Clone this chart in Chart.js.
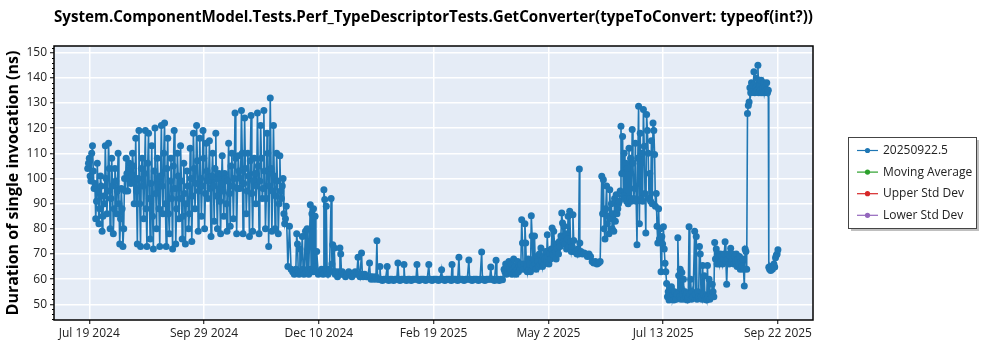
<!DOCTYPE html>
<html>
<head>
<meta charset="utf-8">
<script src="https://cdn.jsdelivr.net/npm/chart.js@4.4.1/dist/chart.umd.min.js"></script>
<style>
html,body{margin:0;padding:0;background:#fff;}
#wrap{position:relative;width:1000px;height:350px;}
</style>
</head>
<body>
<div id="wrap"><canvas id="c" width="1000" height="350"></canvas></div>
<script>
// ---- data ----
const chartTitle = 'System.ComponentModel.Tests.Perf_TypeDescriptorTests.GetConverter(typeToConvert: typeof(int?))';
const yAxisTitle = 'Duration of single invocation (ns)';
const seriesNames = ['20250922.5', 'Moving Average', 'Upper Std Dev', 'Lower Std Dev'];
const tickLabels = ['Jul 19 2024', 'Sep 29 2024', 'Dec 10 2024', 'Feb 19 2025', 'May 2 2025', 'Jul 13 2025', 'Sep 22 2025'];
const tickDays = [0, 71.67, 143.33, 215, 286.67, 358.33, 430];
const yTicks = [50, 60, 70, 80, 90, 100, 110, 120, 130, 140, 150];

// day offsets from Jul 19 2024
const dayOffsets = [
 -1,0,1,2,3,4,5,6,7,8,9,10,11,12,13,14,15,16,17,18,19,20,21,22,23,24,25,26,27,28,29,
 30,31,32,33,34,35,36,37,38,39,40,41,42,43,44,45,46,47,48,49,50,51,52,53,54,55,56,57,58,59,
 60,61,62,63,64,65,66,67,68,69,70,71,72,73,74,75,76,77,78,79,80,81,82,83,84,85,86,87,88,89,
 90,91,92,93,94,95,96,97,98,99,100,101,102,103,104,105,106,107,108,109,110,111,112,113,114,115,116,117,118,119,
 120,121,122,123,124,125,126,
 127,128,129,129.5,130,130.5,131,131.5,132,133,133.5,134,135,135.5,136,136.5,137,138,138.5,139,139.5,140,140.5,141,141.5,142,143,144,145,146,
 146.5,147,147.5,148,148.5,149,150,151,151.5,152,152.5,153,153.5,154,155,156,156.5,157,157.5,158,159,160,161,162,163,164,165,166,167,167.8,
 168.5,169,170,170.5,171,172,173,174,175,175.5,176,177,178,179,179.6,180,181,181.5,182,183,184,185,186,186.5,187,188,189,190,191,192,
 192.7,193.3,194,195,196,196.5,197,198,199,200,201,202,203,204,204.6,205.2,206,207,208,209,210,211,212,212.5,213,214,215,216,217,218,
 219,220,220.5,221,222,223,224,225,226,226.5,227,228,229,230,230.8,231.3,232,233,234,235,236,237,237.5,238,239,240,241,242,243,244,
 245,245.5,246,247,248,249,250,250.7,251.3,252,253,254,254.5,255,256,257,258,
 259,259.5,260,260.5,261,261.5,262,262.5,263,263.5,264,264.5,265,265.5,266,266.5,267,267.5,268,268.5,269,269.5,270,270.5,271,271.5,272,272.5,273,273.5,
 274,274.5,275,275.5,276,276.5,277,277.5,278,278.5,279,279.5,280,280.5,281,281.5,282,282.5,283,283.5,284,284.5,285,285.5,286,286.5,287,287.5,288,288.5,
 289,289.5,290,290.5,291,291.5,292,292.5,293,293.5,294,294.5,295,295.5,296,296.5,297,297.5,298,298.5,299,299.5,300,300.5,301,301.5,302,302.5,303,303.5,
 304,304.5,305,305.5,306,306.3,307,307.5,308,309,310,311,312,313,314,315,316,317,318,319,
 320,320.5,321,321.5,322,322.5,323,323.5,324,324.5,325,325.5,326,326.5,327,327.5,328,328.5,329,329.5,330,330.5,331,331.5,332,332.5,333,333.5,334,334.5,
 335,335.5,336,336.5,337,337.5,338,338.5,339,339.5,340,340.5,341,341.5,342,342.5,343,343.5,344,344.5,345,345.5,346,346.5,347,347.5,348,348.5,349,349.5,
 350,350.5,351,351.5,352,352.5,353,353.5,354,354.5,355,355.5,356,356.5,357,357.5,358,358.5,359,359.5,360,
 360.5,361,361.5,362,362.5,363,363.5,364,364.5,365,365.5,366,366.5,367,367.5,368,368.5,369,369.5,370,370.5,371,371.5,372,372.5,373,373.5,374,374.5,375,
 375.5,376,376.5,377,378,378.5,379,379.5,380,380.5,381,381.5,382,382.5,383,383.5,384,384.5,385,385.5,386,386.5,387,387.5,388,388.5,389,389.5,390,390.5,
 391,391.5,392,392.5,393,393.5,394,394.5,395,395.5,396,396.5,397,397.5,398,398.5,399,399.5,400,400.5,401,401.5,402,402.5,403,403.5,404,404.5,405,405.5,
 406,406.5,407,407.5,408,408.5,409,409.5,410,410.5,411,411.5,412,412.5,413,413.5,414,414.5,415,415.5,416,416.5,417,417.5,418,418.5,419,419.5,420,420.5,
 421,421.5,422,422.5,423,423.5,424,424.3,424.8,425,425.5,426,426.5,427,427.5,428,428.5,429,429.5,430
];

const durations = [
 104,108,99,113,96,84,106,82,101,79,93,113,86,114,80,108,78,104,86,110,74,96,73,100,108,95,106,98,110,90,116,
 74,119,73,108,84,119,73,118,76,113,72,120,80,100,73,121,86,122,73,116,78,108,72,119,74,110,84,113,76,106,
 74,103,80,112,75,118,88,121,79,116,85,119,80,114,92,115,77,110,83,118,80,102,78,109,85,100,79,114,81,110,
 84,126,78,109,96,127,78,124,86,110,77,125,79,108,90,126,78,121,92,127,80,118,73,132,79,121,80,110,78,109,
 92,100,82,89,65,81,64,
 63,62,64,78,74,63,62,72,63,77,64,62,79,63,80,64,62,89.6,64,86,63,88,65,85,63,71,62,63,64,62,
 95.5,91.6,64,89,63,62,64,92,66,73.7,63,72.4,62,63,61,63,72.4,70,62,63,62,61,62,63,62,61,62,63,62,68.7,
 62,61,70.4,62,61,62,61,61,66.4,61,60,61,60,61,75.3,60,60,65,60,59.5,60,60,65,60,59.5,60,60,59.5,60,60,
 66.4,60,59.5,60,60,65.8,60,59.5,60,60,59.5,60,60,60,65.8,60,59.5,60,60,60,59.5,60,65.8,60,60,59.5,60,60,60,59.5,
 60,63.8,60,60,59.5,60,60,60,59.5,65.8,60,60,60,59.5,68.7,60,60,60,59.5,60,60,67.6,60,60,59.5,60,60,60,59.5,60,
 70.8,60,60,59.5,60,60,60,64.8,60,60,59.5,67.5,60,60,59.5,60,59.8,
 64,63,66,62,65,63,67,64,63,66,62,64,68,63,65,62,64,67,63,65,64,66,83.6,74.4,64,66,82,74.4,65,63,
 68,64,66,63,85.2,77.2,65,68,77.2,66,64,69,67,65,70,66,72.4,67,65,69,66,68,71,67,77.7,69,66,70,68,72,
 80.3,70,79,74,71,68,74,72,70,75,73,77.2,86.3,82.3,75,81,74,78,72,76,85,73,87,75,71,73,85.6,75.4,71,70.8,
 71,70,72,70,103.8,74.4,71,70.4,70,70.4,70,69,70,69,67,66.4,67,66,66.4,67,
 100.9,86,99.5,80,76,88,97,82,85,78,95.5,84,90,80,86,79,92,83,93.5,86,88,90,91,95,120.7,102,116.7,93,110,92,
 106,91,104,90,112,92,108,91,119.4,106,92,96,114,91,73.7,108,128.7,82,118,92,110,91,127.4,112.8,94,78.3,125.4,119,110,92,
 102,91,115,90,122,119,109.5,89,94,81,74.4,88,76,80,63,77,74,80.8,72,66.3,63,
 58.3,53,55,51.7,56,53,57,52,54,51.7,55,53,52,54,76.5,61.5,53,64,52,62.7,54,60,52,55,53,54.4,51.7,53,80.8,54,
 60,52,55,53,79,54,77,52,55,53,73,70,53,52,65.4,54,61.4,52,53,51.7,65.4,53,60,52,54,53,58,55,53,74.6,
 68,72,66,70,68,66,70,67,69,66,68,70,74.9,67,58,68,70,66,69,72.3,67,70,68,66,69,67,70,65,68,66,
 69,64,67,65,68,64,57.3,72,71,64,125.8,129,130.4,136,134,138,135,137,142.4,134,136,139.8,135,145,134,137,135,139,134,136,
 138,134,136,135,138,134,135,64.7,64,65,63.5,64.5,64,65.3,66,64.8,68.5,69.5,70,71.7
];

// extra runs between the daily points of Jul–Nov 2024 (day offsets -0.5 ... 122.5)
const halfDayOffsets = [
 -0.5,0.5,1.5,2.5,3.5,4.5,5.5,6.5,7.5,8.5,9.5,10.5,11.5,12.5,13.5,14.5,15.5,16.5,17.5,18.5,19.5,20.5,21.5,22.5,23.5,24.5,25.5,26.5,27.5,28.5,
 29.5,30.5,31.5,32.5,33.5,34.5,35.5,36.5,37.5,38.5,39.5,40.5,41.5,42.5,43.5,44.5,45.5,46.5,47.5,48.5,49.5,50.5,51.5,52.5,
 53.5,54.5,55.5,56.5,57.5,58.5,59.5,60.5,61.5,62.5,63.5,64.5,65.5,66.5,67.5,68.5,69.5,70.5,71.5,72.5,73.5,74.5,75.5,76.5,
 77.5,78.5,79.5,80.5,81.5,82.5,83.5,84.5,85.5,86.5,87.5,88.5,89.5,90.5,91.5,92.5,93.5,94.5,95.5,96.5,97.5,98.5,99.5,100.5,101.5,102.5,103.5,104.5,
 105.5,106.5,107.5,108.5,109.5,110.5,111.5,112.5,113.5,114.5,115.5,116.5,117.5,118.5,119.5,120.5,121.5,122.5
];
const halfDayDurations = [
 106,101,110,103,98,91,95,88,97,85,90,100,95,104,92,97,88,99,95,90,84,88,80,95,102,100,104,101,105,99,
 95,100,90,104,97,102,88,106,92,98,85,103,94,108,88,101,97,110,90,104,86,99,92,105,
 96,88,101,92,99,85,94,90,97,86,100,93,104,98,107,95,100,97,108,94,103,99,96,101,
 97,104,93,100,91,98,95,102,90,99,94,105,97,100,108,96,103,100,110,98,104,95,101,107,94,99,102,97,
 105,99,108,96,103,92,110,97,104,95,101,93,99,90,95,97,86,84
];

// ---- build ----
const FONT = "'Open Sans', 'Noto Sans', sans-serif";
const colors = ['#1f77b4', '#2ca02c', '#d62728', '#9467bd'];
const mainPoints = dayOffsets.map((d, i) => ({ x: d, y: durations[i] }))
  .concat(halfDayOffsets.map((d, i) => ({ x: d, y: halfDayDurations[i] })))
  .sort((a, b) => a.x - b.x);

const bgPlugin = {
  id: 'plotBg',
  beforeDraw(chart) {
    const { ctx, chartArea: a } = chart;
    ctx.save();
    ctx.fillStyle = '#e5ecf6';
    ctx.fillRect(a.left, a.top, a.right - a.left, a.bottom - a.top);
    ctx.restore();
  },
  afterDraw(chart) {
    const { ctx, chartArea: a } = chart;
    const ys = chart.scales.y;
    ctx.save();
    ctx.strokeStyle = '#000';
    ctx.lineWidth = 1;
    for (let v = Math.ceil(ys.min); v <= ys.max; v += 2) {
      if (v % 10 === 0) continue;
      const py = Math.round(ys.getPixelForValue(v)) + 0.5;
      ctx.beginPath();
      ctx.moveTo(a.left - 2, py);
      ctx.lineTo(a.left, py);
      ctx.stroke();
    }
    ctx.lineWidth = 1.5;
    ctx.strokeStyle = '#000';
    ctx.strokeRect(a.left, a.top, a.right - a.left, a.bottom - a.top);
    const lx = 848, ly = 137, lw = 128, lh = 91;
    ctx.fillStyle = 'rgba(0,0,0,0.25)';
    ctx.fillRect(lx + 3, ly + 3, lw, lh);
    ctx.fillStyle = '#fff';
    ctx.fillRect(lx, ly, lw, lh);
    ctx.lineWidth = 1;
    ctx.strokeStyle = '#444';
    ctx.strokeRect(lx + 0.5, ly + 0.5, lw, lh);
    ctx.font = '12px ' + FONT;
    ctx.textBaseline = 'middle';
    chart.data.datasets.forEach((ds, i) => {
      const y = 150.5 + i * 21.6;
      ctx.strokeStyle = ds.borderColor;
      ctx.lineWidth = 1.2;
      ctx.beginPath();
      ctx.moveTo(857, y);
      ctx.lineTo(878, y);
      ctx.stroke();
      ctx.fillStyle = ds.borderColor;
      ctx.beginPath();
      ctx.arc(867.5, y, 2.6, 0, Math.PI * 2);
      ctx.fill();
      ctx.fillStyle = '#222';
      ctx.fillText(ds.label, 883, y);
    });
    ctx.restore();
  }
};

new Chart(document.getElementById('c'), {
  type: 'line',
  data: {
    datasets: [
      { label: seriesNames[0], data: mainPoints, borderColor: colors[0], backgroundColor: colors[0],
        borderWidth: 1.6, pointRadius: 3.5, pointBorderWidth: 0, pointBackgroundColor: colors[0], tension: 0 },
      { label: seriesNames[1], data: [], borderColor: colors[1], backgroundColor: colors[1] },
      { label: seriesNames[2], data: [], borderColor: colors[2], backgroundColor: colors[2] },
      { label: seriesNames[3], data: [], borderColor: colors[3], backgroundColor: colors[3] }
    ]
  },
  options: {
    responsive: false,
    animation: false,
    devicePixelRatio: 1,
    layout: { padding: { left: 0, right: 187, top: 0, bottom: 0 } },
    plugins: {
      legend: { display: false },
      tooltip: { enabled: false },
      title: {
        display: true, text: chartTitle, fullSize: false, color: '#000',
        font: { family: FONT, size: 16, weight: 'bold' },
        padding: { top: 8, bottom: 18.8 }
      }
    },
    scales: {
      x: {
        type: 'linear', min: -22.04, max: 451.9,
        afterBuildTicks: s => { s.ticks = tickDays.map(v => ({ value: v })); },
        afterFit: s => { s.height = 30; },
        ticks: { autoSkip: false, maxRotation: 0, padding: 2, color: '#222',
          font: { family: FONT, size: 12 },
          callback: (v, i) => tickLabels[i] },
        grid: { color: '#fff', lineWidth: 1.5, tickColor: '#000', tickLength: 4, tickWidth: 1 },
        border: { display: false }
      },
      y: {
        type: 'linear', min: 43.8, max: 152.6,
        afterBuildTicks: s => { s.ticks = yTicks.map(v => ({ value: v })); },
        afterFit: s => { s.width = 54; },
        ticks: { padding: 3, color: '#222', font: { family: FONT, size: 12 } },
        grid: { color: '#fff', lineWidth: 1.5, tickColor: '#000', tickLength: 4, tickWidth: 1 },
        border: { display: false },
        title: { display: true, text: yAxisTitle, color: '#000',
          font: { family: FONT, size: 16, weight: 'bold' }, padding: { top: 4, bottom: 0 } }
      }
    }
  },
  plugins: [bgPlugin]
});
</script>
</body>
</html>
